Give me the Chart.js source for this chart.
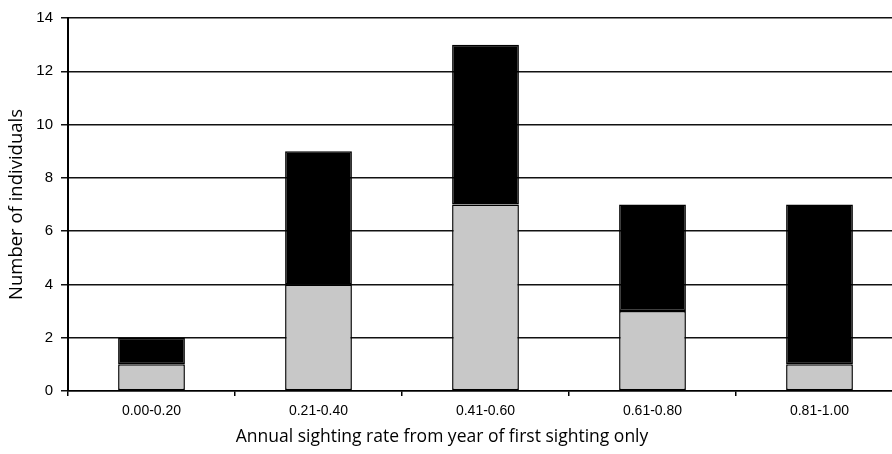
<!DOCTYPE html>
<html>
<head>
<meta charset="utf-8">
<script src="https://cdn.jsdelivr.net/npm/chart.js@4/dist/chart.umd.min.js"></script>
<style>
  html, body { margin: 0; padding: 0; background: #fff; overflow: hidden; }
  #wrap { width: 892px; height: 454px; overflow: hidden; position: relative; }
  canvas { display: block; }
</style>
</head>
<body>
<div id="wrap"><canvas id="c" width="904" height="454"></canvas></div>
<script>
const categories = ["0.00-0.20", "0.21-0.40", "0.41-0.60", "0.61-0.80", "0.81-1.00"];
const greyValues = [1, 4, 7, 3, 1];
const blackValues = [1, 5, 6, 4, 6];
const yTicks = [0, 2, 4, 6, 8, 10, 12, 14];
const xTitle = "Annual sighting rate from year of first sighting only";
const yTitle = "Number of individuals";

new Chart(document.getElementById('c'), {
  type: 'bar',
  data: {
    labels: categories,
    datasets: [
      { label: 'grey', data: greyValues, backgroundColor: '#c8c8c8', borderColor: '#000', borderWidth: 1.5, borderSkipped: false, barPercentage: 0.4, categoryPercentage: 1.0 },
      { label: 'black', data: blackValues, backgroundColor: '#000', borderColor: '#000', borderWidth: 1.5, borderSkipped: false, barPercentage: 0.4, categoryPercentage: 1.0 }
    ]
  },
  options: {
    responsive: false,
    animation: false,
    layout: { padding: { top: 18, right: 1, left: -19, bottom: 0 } },
    plugins: {
      legend: { display: false },
      tooltip: { enabled: false },
      title: {
        display: true,
        position: 'bottom',
        text: xTitle,
        color: '#000',
        font: { family: '"Open Sans", "Noto Sans", sans-serif', size: 17.5, weight: 'normal' },
        padding: { top: 0, bottom: 6 }
      }
    },
    scales: {
      x: {
        stacked: true,
        offset: true,
        grid: { display: true, drawOnChartArea: false, drawTicks: true, tickLength: 5, color: '#000', lineWidth: 1.5, offset: true },
        border: { display: true, color: '#000', width: 1.5 },
        ticks: { color: '#000', font: { family: '"Liberation Sans", Arial, sans-serif', size: 14 }, padding: 7, maxRotation: 0 },
        afterFit: (s) => { s.height = 36; }
      },
      y: {
        stacked: true,
        min: 0,
        max: 14,
        afterBuildTicks: (s) => { s.ticks = yTicks.map(v => ({ value: v })); },
        grid: { color: '#111', lineWidth: 1.5, drawTicks: true, tickLength: 7 },
        border: { display: true, color: '#000', width: 2 },
        ticks: { color: '#000', font: { family: '"Liberation Sans", Arial, sans-serif', size: 15 }, padding: 8 },
        title: {
          display: true,
          text: yTitle,
          color: '#000',
          font: { family: '"Open Sans", "Noto Sans", sans-serif', size: 18.5, weight: 'normal' },
          padding: { top: 25, bottom: 0 }
        },
        afterFit: (s) => { s.width = 87; }
      }
    }
  }
});
</script>
</body>
</html>
